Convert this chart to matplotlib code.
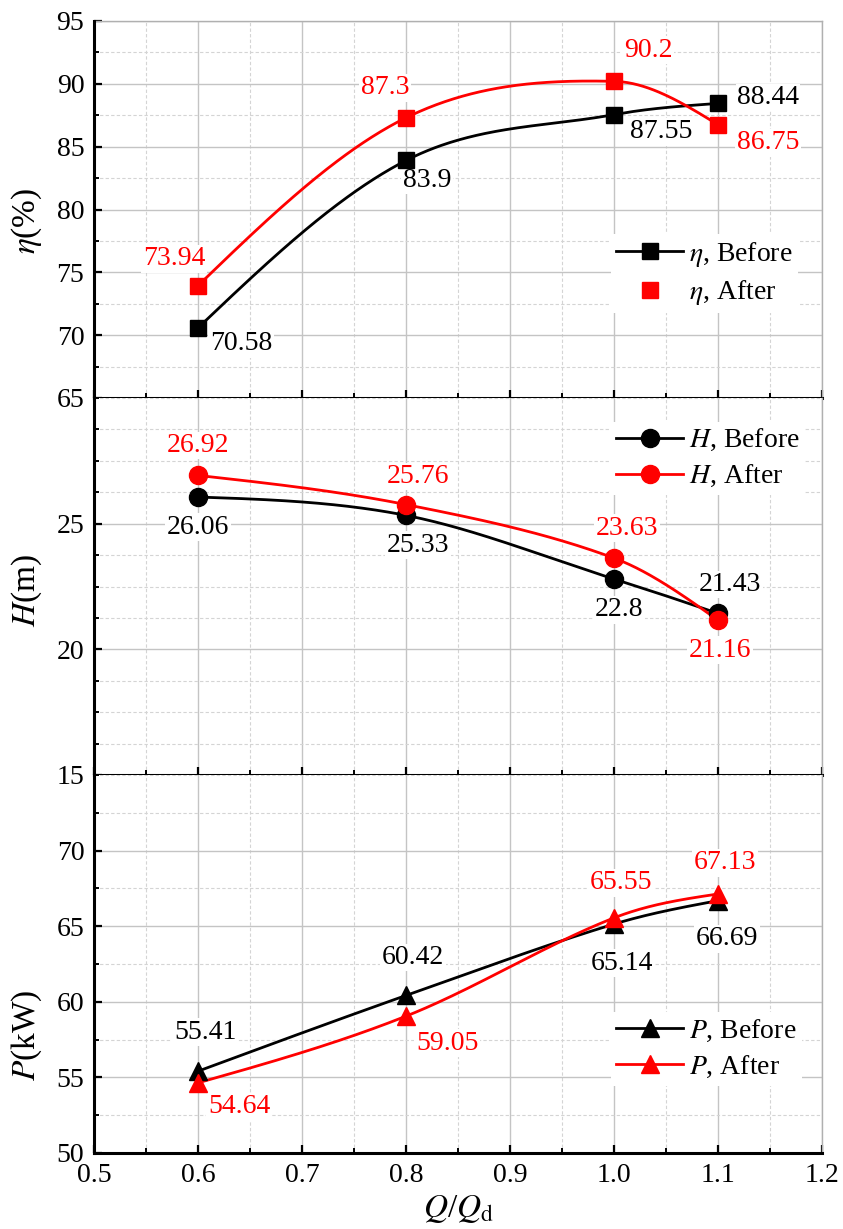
import numpy as np
import matplotlib
matplotlib.use("Agg")
import matplotlib.pyplot as plt
from matplotlib.lines import Line2D
from matplotlib.ticker import MultipleLocator, FixedLocator, FormatStrFormatter

plt.rcParams["font.family"] = ["Liberation Serif", "DejaVu Serif"]
plt.rcParams["mathtext.fontset"] = "stix"

# flow ratio Q/Qd
q_ratio = [0.6, 0.8, 1.0, 1.1]

eta_before = [70.58, 83.9, 87.55, 88.44]
eta_after = [73.94, 87.3, 90.2, 86.75]
head_before = [26.06, 25.33, 22.8, 21.43]
head_after = [26.92, 25.76, 23.63, 21.16]
power_before = [55.41, 60.42, 65.14, 66.69]
power_after = [54.64, 59.05, 65.55, 67.13]

# label offsets in pixels (dx, dy), y pointing down
eta_before_off = [(43, 16), (21, 20), (47, 17), (50, -6)]
eta_after_off = [(-24, -27), (-21, -30), (34, -31), (50, 18)]
head_before_off = [(0, 30), (12, 30), (5, 31), (12, -29)]
head_after_off = [(0, -30), (12, -28), (13, -30), (2, 30)]
power_before_off = [(7, -39), (7, -38), (8, 39), (9, 38)]
power_after_off = [(41, 24), (41, 27), (7, -35), (7, -31)]

RED = "#ff0000"
BLACK = "#000000"
FS = 20
LABEL_FS = 24


def smooth_curve(x, y, n=300):
    """Cubic Hermite line through the points (centred-difference slopes)."""
    x = np.asarray(x, float)
    y = np.asarray(y, float)
    k = len(x)
    chord = np.diff(y) / np.diff(x)
    m = np.zeros(k)
    m[1:-1] = (y[2:] - y[:-2]) / (x[2:] - x[:-2])
    m[0] = (3 * chord[0] - m[1]) / 2
    m[-1] = (3 * chord[-1] - m[-2]) / 2
    xs = np.linspace(x[0], x[-1], n)
    idx = np.clip(np.searchsorted(x, xs) - 1, 0, k - 2)
    h = x[idx + 1] - x[idx]
    t = (xs - x[idx]) / h
    h00 = 2 * t ** 3 - 3 * t ** 2 + 1
    h10 = t ** 3 - 2 * t ** 2 + t
    h01 = -2 * t ** 3 + 3 * t ** 2
    h11 = t ** 3 - t ** 2
    ys = h00 * y[idx] + h10 * h * m[idx] + h01 * y[idx + 1] + h11 * h * m[idx + 1]
    return xs, ys


def style_axes(ax, ylim, yticks, yminor, show_x):
    ax.set_xlim(0.5, 1.2)
    ax.set_ylim(*ylim)
    ax.xaxis.set_major_locator(MultipleLocator(0.1))
    ax.xaxis.set_minor_locator(MultipleLocator(0.05))
    ax.yaxis.set_major_locator(FixedLocator(yticks))
    ax.yaxis.set_minor_locator(MultipleLocator(yminor))
    ax.set_axisbelow(True)
    ax.grid(which="major", color="#c4c4c4", linewidth=1.0, linestyle="-")
    ax.grid(which="minor", color="#d4d4d4", linewidth=0.8, linestyle=(0, (3, 2)))
    for side in ("left", "bottom"):
        ax.spines[side].set_linewidth(2.2)
        ax.spines[side].set_color(BLACK)
        ax.spines[side].set_zorder(6)
    for side in ("right", "top"):
        ax.spines[side].set_color("#b0b0b0")
        ax.spines[side].set_linewidth(1.0)
    ax.tick_params(which="both", direction="in", top=False, right=False,
                   labelsize=FS, colors=BLACK)
    ax.tick_params(which="major", length=6, width=1.6, pad=7)
    ax.tick_params(which="minor", length=3.5, width=1.4)
    ax.xaxis.set_major_formatter(FormatStrFormatter("%.1f"))
    if not show_x:
        ax.tick_params(axis="x", labelbottom=False)


def draw_series(ax, y, color, marker, ms, offsets):
    xs, ys = smooth_curve(q_ratio, y)
    ax.plot(xs, ys, color=color, linewidth=2.0, zorder=3, clip_on=False)
    ax.plot(q_ratio, y, linestyle="none", marker=marker, markersize=ms,
            color=color, zorder=4, clip_on=False)
    for xv, yv, (dx, dy) in zip(q_ratio, y, offsets):
        ax.annotate(f"{yv:g}", (xv, yv), xytext=(dx, -dy),
                    textcoords="offset pixels", ha="center", va="center",
                    fontsize=FS, color=color, zorder=2,
                    bbox=dict(facecolor="white", edgecolor="none", pad=1.0))


def add_legend(ax, handles, labels, anchor):
    leg = ax.legend(handles, labels, loc="center left", bbox_to_anchor=anchor,
                    fontsize=FS, frameon=True, facecolor="white",
                    edgecolor="none", framealpha=1.0, fancybox=False,
                    handlelength=2.4, handletextpad=0.2, labelspacing=0.35,
                    borderpad=0.2, borderaxespad=0.0)
    leg.set_zorder(7)


fig = plt.figure(figsize=(8.43, 12.29), dpi=100)
W, H = 843.0, 1229.0
left, width = 94 / W, 728 / W
ax_eta = fig.add_axes([left, 1 - 398 / H, width, 377 / H])
ax_head = fig.add_axes([left, 1 - 775 / H, width, 377 / H])
ax_pow = fig.add_axes([left, 1 - 1153 / H, width, 378 / H])

style_axes(ax_eta, (65, 95), [65, 70, 75, 80, 85, 90, 95], 2.5, False)
style_axes(ax_head, (15, 30), [15, 20, 25], 1.25, False)
style_axes(ax_pow, (50, 75), [50, 55, 60, 65, 70], 2.5, True)
ax_head.spines["top"].set_visible(False)
ax_pow.spines["top"].set_visible(False)

# efficiency
draw_series(ax_eta, eta_before, BLACK, "s", 11, eta_before_off)
draw_series(ax_eta, eta_after, RED, "s", 11, eta_after_off)
add_legend(ax_eta,
           [Line2D([], [], color=BLACK, lw=2.0, marker="s", ms=11),
            Line2D([], [], color=RED, lw=0, marker="s", ms=11)],
           [r"$\eta$, Before", r"$\eta$, After"], (0.71, 0.33))

# head
draw_series(ax_head, head_before, BLACK, "o", 13, head_before_off)
draw_series(ax_head, head_after, RED, "o", 13, head_after_off)
add_legend(ax_head,
           [Line2D([], [], color=BLACK, lw=2.0, marker="o", ms=13),
            Line2D([], [], color=RED, lw=2.0, marker="o", ms=13)],
           [r"$H$, Before", r"$H$, After"], (0.71, 0.84))

# shaft power
draw_series(ax_pow, power_before, BLACK, "^", 13, power_before_off)
draw_series(ax_pow, power_after, RED, "^", 13, power_after_off)
add_legend(ax_pow,
           [Line2D([], [], color=BLACK, lw=2.0, marker="^", ms=13),
            Line2D([], [], color=RED, lw=2.0, marker="^", ms=13)],
           [r"$P$, Before", r"$P$, After"], (0.71, 0.275))

ax_eta.set_ylabel(r"$\eta$(%)", fontsize=LABEL_FS)
ax_eta.yaxis.set_label_coords(-0.068, 0.47)
ax_head.set_ylabel(r"$H$(m)", fontsize=LABEL_FS)
ax_head.yaxis.set_label_coords(-0.068, 0.49)
ax_pow.set_ylabel(r"$P$(kW)", fontsize=LABEL_FS)
ax_pow.yaxis.set_label_coords(-0.068, 0.31)
ax_pow.set_xlabel(r"$Q$/$Q_{\rm d}$", fontsize=LABEL_FS, labelpad=4)

fig.savefig("out.png", dpi=100)
